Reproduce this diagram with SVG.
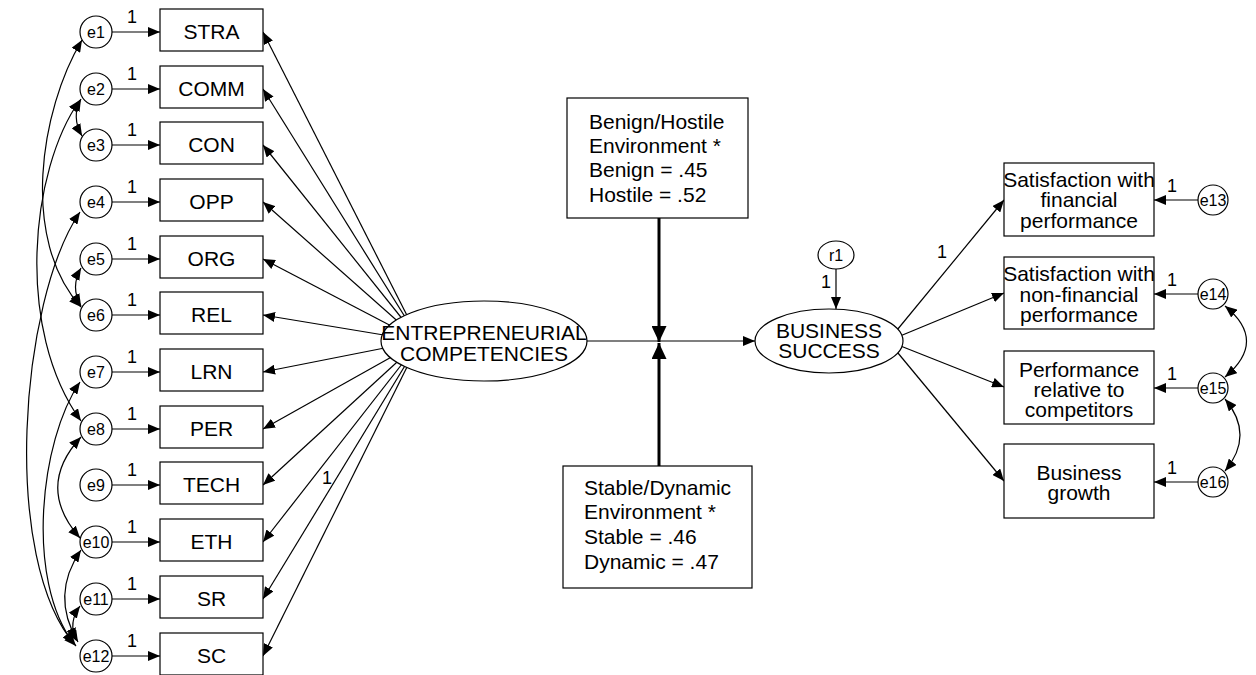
<svg xmlns="http://www.w3.org/2000/svg" width="1256" height="675" viewBox="0 0 1256 675">
<style>
.ln{fill:none;stroke:#000;stroke-width:1.2}
.bx{fill:#fff;stroke:#000;stroke-width:1.2}
.t{font-family:"Liberation Sans",Arial,sans-serif;font-size:21px;fill:#000}
.c{text-anchor:middle}
.s{font-family:"Liberation Sans",Arial,sans-serif;font-size:16px;fill:#000;text-anchor:middle}
.one{font-family:"Liberation Sans",Arial,sans-serif;font-size:18px;fill:#000;text-anchor:middle}
</style>
<defs>
<marker id="ah" viewBox="0 0 12 10" refX="12" refY="5" markerWidth="12" markerHeight="10" markerUnits="userSpaceOnUse" orient="auto-start-reverse"><path d="M0,0 L12,5 L0,10 z" fill="#000"/></marker>
<marker id="ahb" viewBox="0 0 16 15" refX="16" refY="7.5" markerWidth="16" markerHeight="15" markerUnits="userSpaceOnUse" orient="auto"><path d="M0,0 L16,7.5 L0,15 z" fill="#000"/></marker>
</defs>
<rect width="1256" height="675" fill="#fff"/>

<g id="connectors">
<g class="ln" marker-end="url(#ah)">
<line x1="112" y1="32" x2="160" y2="32"/>
<line x1="112" y1="89" x2="160" y2="89"/>
<line x1="112" y1="145" x2="160" y2="145"/>
<line x1="112" y1="202" x2="160" y2="202"/>
<line x1="112" y1="259" x2="160" y2="259"/>
<line x1="112" y1="315" x2="160" y2="315"/>
<line x1="112" y1="372" x2="160" y2="372"/>
<line x1="112" y1="429" x2="160" y2="429"/>
<line x1="112" y1="485" x2="160" y2="485"/>
<line x1="112" y1="542" x2="160" y2="542"/>
<line x1="112" y1="599" x2="160" y2="599"/>
<line x1="112" y1="656" x2="160" y2="656"/>
<line x1="420" y1="341" x2="263" y2="32"/>
<line x1="420" y1="341" x2="263" y2="89"/>
<line x1="420" y1="341" x2="263" y2="145"/>
<line x1="420" y1="341" x2="263" y2="202"/>
<line x1="420" y1="341" x2="263" y2="259"/>
<line x1="420" y1="341" x2="263" y2="315"/>
<line x1="420" y1="341" x2="263" y2="372"/>
<line x1="420" y1="341" x2="263" y2="429"/>
<line x1="420" y1="341" x2="263" y2="485"/>
<line x1="420" y1="341" x2="263" y2="542"/>
<line x1="420" y1="341" x2="263" y2="599"/>
<line x1="420" y1="341" x2="263" y2="656"/>
<line x1="587" y1="341" x2="755" y2="341"/>
<line x1="836" y1="269" x2="836" y2="309"/>
<line x1="888" y1="341" x2="1004" y2="200"/>
<line x1="888" y1="341" x2="1004" y2="293"/>
<line x1="888" y1="341" x2="1004" y2="387"/>
<line x1="888" y1="341" x2="1004" y2="481"/>
<line x1="1198" y1="200" x2="1154" y2="200"/>
<line x1="1198" y1="294" x2="1154" y2="294"/>
<line x1="1198" y1="388" x2="1154" y2="388"/>
<line x1="1198" y1="482" x2="1154" y2="482"/>
</g>
<g fill="none" stroke="#000" stroke-width="3" marker-end="url(#ahb)">
<line x1="659" y1="218" x2="659" y2="342"/>
<line x1="659" y1="466" x2="659" y2="343"/>
</g>
<g class="ln" marker-start="url(#ah)" marker-end="url(#ah)">
<path d="M82 40 C40 110 20 240 81 307"/>
<path d="M81 99 Q71 117 82 136"/>
<path d="M80 100 C30 170 15 330 81 421"/>
<path d="M81 268 Q70 287 81 306"/>
<path d="M80 212 C20 300 0 560 76 646"/>
<path d="M80 382 C40 440 25 580 74 644"/>
<path d="M81 437 Q35 487 80 538"/>
<path d="M81 550 Q50 595 78 642"/>
<path d="M80 606 Q68 622 76 640"/>
<path d="M1225 306 Q1268 341 1225 377"/>
<path d="M1225 399 Q1255 435 1225 471"/>
</g>
</g>

<g id="labels-one">
<text class="one" x="132" y="23">1</text>
<text class="one" x="132" y="80">1</text>
<text class="one" x="132" y="136">1</text>
<text class="one" x="132" y="193">1</text>
<text class="one" x="132" y="250">1</text>
<text class="one" x="132" y="306">1</text>
<text class="one" x="132" y="363">1</text>
<text class="one" x="132" y="420">1</text>
<text class="one" x="132" y="476">1</text>
<text class="one" x="132" y="533">1</text>
<text class="one" x="132" y="590">1</text>
<text class="one" x="132" y="647">1</text>
<text class="one" x="327" y="484">1</text>
<text class="one" x="826" y="288">1</text>
<text class="one" x="942" y="258">1</text>
<text class="one" x="1172" y="192">1</text>
<text class="one" x="1172" y="286">1</text>
<text class="one" x="1172" y="380">1</text>
<text class="one" x="1172" y="474">1</text>
</g>

<g id="e1"><circle class="bx" cx="96" cy="32" r="16"/><text class="s" x="96" y="38">e1</text></g>
<g id="e2"><circle class="bx" cx="96" cy="89" r="16"/><text class="s" x="96" y="95">e2</text></g>
<g id="e3"><circle class="bx" cx="96" cy="145" r="16"/><text class="s" x="96" y="151">e3</text></g>
<g id="e4"><circle class="bx" cx="96" cy="202" r="16"/><text class="s" x="96" y="208">e4</text></g>
<g id="e5"><circle class="bx" cx="96" cy="259" r="16"/><text class="s" x="96" y="265">e5</text></g>
<g id="e6"><circle class="bx" cx="96" cy="315" r="16"/><text class="s" x="96" y="321">e6</text></g>
<g id="e7"><circle class="bx" cx="96" cy="372" r="16"/><text class="s" x="96" y="378">e7</text></g>
<g id="e8"><circle class="bx" cx="96" cy="429" r="16"/><text class="s" x="96" y="435">e8</text></g>
<g id="e9"><circle class="bx" cx="96" cy="485" r="16"/><text class="s" x="96" y="491">e9</text></g>
<g id="e10"><circle class="bx" cx="96" cy="542" r="16"/><text class="s" x="96" y="548">e10</text></g>
<g id="e11"><circle class="bx" cx="96" cy="599" r="16"/><text class="s" x="96" y="605">e11</text></g>
<g id="e12"><circle class="bx" cx="96" cy="656" r="16"/><text class="s" x="96" y="662">e12</text></g>

<g id="STRA"><rect class="bx" x="160" y="9" width="103" height="42"/><text class="t c" x="211.5" y="39">STRA</text></g>
<g id="COMM"><rect class="bx" x="160" y="66" width="103" height="42"/><text class="t c" x="211.5" y="96">COMM</text></g>
<g id="CON"><rect class="bx" x="160" y="122" width="103" height="42"/><text class="t c" x="211.5" y="152">CON</text></g>
<g id="OPP"><rect class="bx" x="160" y="179" width="103" height="42"/><text class="t c" x="211.5" y="209">OPP</text></g>
<g id="ORG"><rect class="bx" x="160" y="236" width="103" height="42"/><text class="t c" x="211.5" y="266">ORG</text></g>
<g id="REL"><rect class="bx" x="160" y="292" width="103" height="42"/><text class="t c" x="211.5" y="322">REL</text></g>
<g id="LRN"><rect class="bx" x="160" y="349" width="103" height="42"/><text class="t c" x="211.5" y="379">LRN</text></g>
<g id="PER"><rect class="bx" x="160" y="406" width="103" height="42"/><text class="t c" x="211.5" y="436">PER</text></g>
<g id="TECH"><rect class="bx" x="160" y="462" width="103" height="42"/><text class="t c" x="211.5" y="492">TECH</text></g>
<g id="ETH"><rect class="bx" x="160" y="519" width="103" height="42"/><text class="t c" x="211.5" y="549">ETH</text></g>
<g id="SR"><rect class="bx" x="160" y="576" width="103" height="42"/><text class="t c" x="211.5" y="606">SR</text></g>
<g id="SC"><rect class="bx" x="160" y="633" width="103" height="42"/><text class="t c" x="211.5" y="663">SC</text></g>

<g id="EC"><ellipse class="bx" cx="484" cy="341" rx="103" ry="40"/><text class="t c" x="484" y="340">ENTREPRENEURIAL</text><text class="t c" x="484" y="361">COMPETENCIES</text></g>

<g id="BH"><rect class="bx" x="567" y="98" width="181" height="120"/>
<text class="t" x="589" y="129">Benign/Hostile</text><text class="t" x="589" y="153">Environment *</text><text class="t" x="589" y="177">Benign = .45</text><text class="t" x="589" y="202">Hostile = .52</text></g>

<g id="SD"><rect class="bx" x="563" y="466" width="189" height="122"/>
<text class="t" x="584" y="495">Stable/Dynamic</text><text class="t" x="584" y="519">Environment *</text><text class="t" x="584" y="544">Stable = .46</text><text class="t" x="584" y="569">Dynamic = .47</text></g>

<g id="BS"><ellipse class="bx" cx="829" cy="341" rx="74" ry="32"/><text class="t c" x="829" y="338">BUSINESS</text><text class="t c" x="829" y="358">SUCCESS</text></g>
<g id="r1"><ellipse class="bx" cx="836" cy="255" rx="18" ry="14"/><text class="s" x="836" y="261">r1</text></g>

<g id="SF"><rect class="bx" x="1004" y="163" width="150" height="73"/><text class="t c" x="1079" y="187">Satisfaction with</text><text class="t c" x="1079" y="207">financial</text><text class="t c" x="1079" y="228">performance</text></g>
<g id="SN"><rect class="bx" x="1004" y="257" width="150" height="72"/><text class="t c" x="1079" y="281">Satisfaction with</text><text class="t c" x="1079" y="302">non-financial</text><text class="t c" x="1079" y="322">performance</text></g>
<g id="PR"><rect class="bx" x="1004" y="351" width="150" height="73"/><text class="t c" x="1079" y="377">Performance</text><text class="t c" x="1079" y="397">relative to</text><text class="t c" x="1079" y="417">competitors</text></g>
<g id="BG"><rect class="bx" x="1004" y="444" width="150" height="74"/><text class="t c" x="1079" y="480">Business</text><text class="t c" x="1079" y="500">growth</text></g>

<g id="e13"><circle class="bx" cx="1213" cy="200" r="15"/><text class="s" x="1213" y="206">e13</text></g>
<g id="e14"><circle class="bx" cx="1213" cy="294" r="15"/><text class="s" x="1213" y="300">e14</text></g>
<g id="e15"><circle class="bx" cx="1213" cy="388" r="15"/><text class="s" x="1213" y="394">e15</text></g>
<g id="e16"><circle class="bx" cx="1213" cy="482" r="15"/><text class="s" x="1213" y="488">e16</text></g>
</svg>
